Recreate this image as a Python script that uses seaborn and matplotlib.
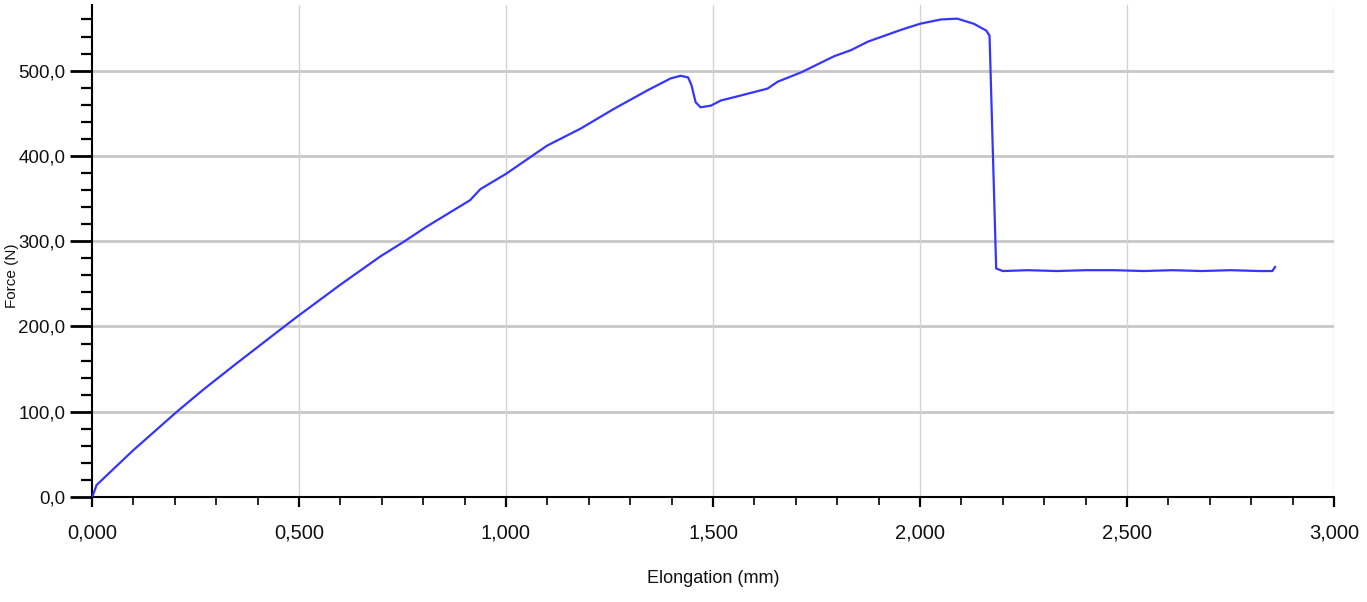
import matplotlib
matplotlib.use("Agg")
import matplotlib.pyplot as plt
from matplotlib.ticker import MultipleLocator, FuncFormatter
import seaborn as sns
import pandas as pd

# elongation (mm) / force (N)
elongation = [0.000, 0.003, 0.011, 0.050, 0.100, 0.205, 0.269, 0.350, 0.462, 0.497,
              0.600, 0.696, 0.752, 0.808, 0.913, 0.938, 1.000, 1.099, 1.180, 1.260,
              1.342, 1.398, 1.422, 1.440, 1.448, 1.458, 1.470, 1.495, 1.519, 1.552,
              1.600, 1.632, 1.656, 1.713, 1.793, 1.833, 1.874, 1.955, 2.000, 2.050,
              2.090, 2.130, 2.160, 2.168, 2.184, 2.200, 2.260, 2.330, 2.400, 2.470,
              2.540, 2.610, 2.680, 2.750, 2.820, 2.851, 2.858]
force = [0, 3, 14, 32, 55, 100, 126, 157, 199, 212,
         249, 282, 299, 317, 348, 361, 379, 412, 432, 455,
         477, 491, 494, 492, 483, 463, 457, 459, 465, 469,
         475, 479, 487, 498, 517, 524, 534, 548, 555, 560,
         561, 555, 547, 541, 268, 265, 266, 265, 266, 266,
         265, 266, 265, 266, 265, 265, 270]

x_label = "Elongation (mm)"
y_label = "Force (N)"

df = pd.DataFrame({"elong": elongation, "force": force})

sns.set_style("white")
plt.rcParams["font.family"] = ["Liberation Sans", "DejaVu Sans"]

fig = plt.figure(figsize=(13.67, 6.02), dpi=100)
ax = fig.add_axes([92 / 1367, 105 / 602, 1242 / 1367, 492 / 602])

sns.lineplot(data=df, x="elong", y="force", ax=ax, sort=False,
             color="#3535ff", linewidth=1.6, zorder=3)

ax.set_xlim(0, 3.0)
ax.set_ylim(0, 577)

ax.xaxis.set_major_locator(MultipleLocator(0.5))
ax.xaxis.set_minor_locator(MultipleLocator(0.1))
ax.yaxis.set_major_locator(MultipleLocator(100))
ax.yaxis.set_minor_locator(MultipleLocator(20))
ax.xaxis.set_major_formatter(FuncFormatter(lambda v, p: f"{v:.3f}".replace(".", ",")))
ax.yaxis.set_major_formatter(FuncFormatter(lambda v, p: f"{v:.1f}".replace(".", ",")))

ax.grid(False)
for yv in range(100, 600, 100):
    ax.axhline(yv, color="#c8c8c8", linewidth=2.0, zorder=1)
for xv in [0.5, 1.0, 1.5, 2.0, 2.5, 3.0]:
    ax.axvline(xv, color="#d2d2d2", linewidth=1.0, zorder=1)

for s in ["top", "right"]:
    ax.spines[s].set_visible(False)
for s in ["left", "bottom"]:
    ax.spines[s].set_color("black")
    ax.spines[s].set_linewidth(1.5)

ax.tick_params(bottom=True, left=True, which="both")
ax.tick_params(axis="y", which="major", direction="out", length=16, width=2, color="black", pad=3)
ax.tick_params(axis="y", which="minor", direction="out", length=8, width=1.6, color="black")
ax.tick_params(axis="x", which="major", direction="out", length=7, width=1.6, color="black", pad=12)
ax.tick_params(axis="x", which="minor", direction="out", length=6, width=1.2, color="black")

for lab in ax.get_xticklabels():
    lab.set_fontsize(14.5)
    lab.set_color("#111111")
for lab in ax.get_yticklabels():
    lab.set_fontsize(13.5)
    lab.set_color("#111111")

ax.set_xlabel(x_label, fontsize=13, color="#111111", labelpad=20)
ax.set_ylabel(y_label, fontsize=11, color="#111111")
ax.yaxis.set_label_coords(-0.059, 0.45)

fig.savefig("out.png", dpi=100)
